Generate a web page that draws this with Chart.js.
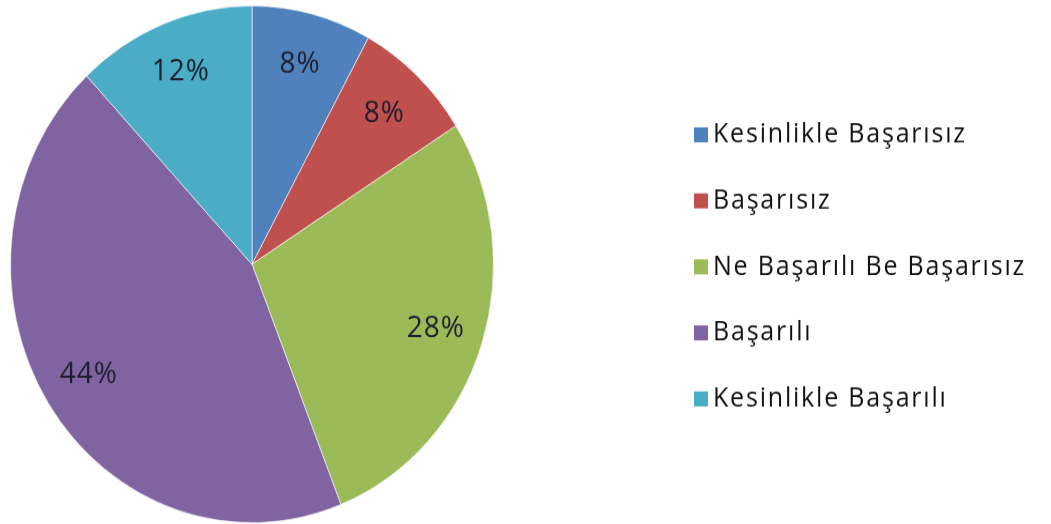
<!DOCTYPE html>
<html>
<head>
<meta charset="utf-8">
<script src="https://cdn.jsdelivr.net/npm/chart.js@4/dist/chart.umd.min.js"></script>
<style>
  html { overflow: hidden; }
  body { margin: 0; padding: 0; background: #fff; height: 524px; }
  #wrap { width: 1051px; height: 490px; transform: scaleY(1.07); transform-origin: 0 0; }
  #pie_chart { display: block; }
</style>
</head>
<body>
<div id="wrap"><canvas id="pie_chart" width="1051" height="490"></canvas></div>
<script>
// data
var categories = ['Kesinlikle Başarısız', 'Başarısız', 'Ne Başarılı Be Başarısız', 'Başarılı', 'Kesinlikle Başarılı'];
var percents = [8, 8, 28, 44, 12];
var colors = ['#4F81BD', '#C0504D', '#9BBB59', '#8064A2', '#4BACC6'];

// percent labels inside the slices
var sliceLabels = {
  id: 'sliceLabels',
  afterDatasetsDraw: function(chart){
    var ctx = chart.ctx;
    var meta = chart.getDatasetMeta(0);
    ctx.save();
    ctx.font = '28px "Open Sans"';
    ctx.letterSpacing = '1px';
    ctx.fillStyle = '#1e1e2e';
    ctx.textAlign = 'center';
    ctx.textBaseline = 'middle';
    meta.data.forEach(function(arc, i){
      var p = arc.getProps(['x', 'y', 'startAngle', 'endAngle', 'outerRadius'], true);
      var mid = (p.startAngle + p.endAngle) / 2;
      var r = p.outerRadius * 0.8;
      ctx.fillText(chart.data.datasets[0].data[i] + '%', p.x + Math.cos(mid) * r, p.y + Math.sin(mid) * r);
    });
    ctx.restore();
  }
};

// legend on the right, drawn by hand so the spacing matches
var sideLegend = {
  id: 'sideLegend',
  afterDraw: function(chart){
    var ctx = chart.ctx;
    ctx.save();
    ctx.font = '25px "Open Sans"';
    ctx.letterSpacing = '1.8px';
    ctx.textBaseline = 'middle';
    chart.data.labels.forEach(function(lbl, i){
      var y = 126 + i * 61.7;
      ctx.fillStyle = chart.data.datasets[0].backgroundColor[i];
      ctx.fillRect(694, y - 7, 14, 14);
      ctx.fillStyle = '#111';
      ctx.fillText(lbl, 713, y);
    });
    ctx.restore();
  }
};

const ctx = document.getElementById('pie_chart');
new Chart(ctx, {
  type: 'pie',
  data: {
    labels: categories,
    datasets: [{
      data: percents,
      backgroundColor: colors,
      borderColor: 'rgba(255,255,255,0.6)',
      borderWidth: 1
    }]
  },
  options: {
    responsive: false,
    animation: false,
    layout: { padding: { left: 10, right: 557, top: 5, bottom: 1 } },
    plugins: {
      legend: { display: false },
      tooltip: { enabled: false }
    }
  },
  plugins: [sliceLabels, sideLegend]
});
</script>
</body>
</html>
